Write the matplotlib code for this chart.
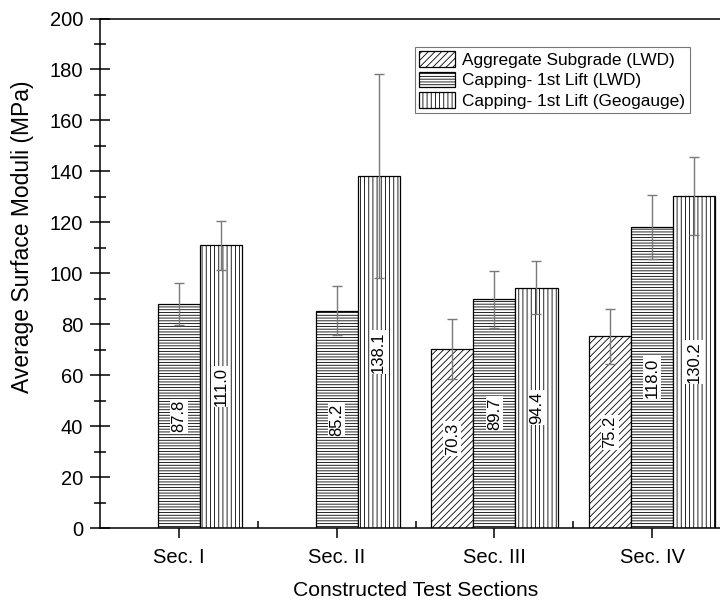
import numpy as np
import matplotlib
matplotlib.use("Agg")
import matplotlib.pyplot as plt
from matplotlib.ticker import MultipleLocator, FixedLocator

plt.rcParams["font.family"] = ["Liberation Sans", "DejaVu Sans"]
plt.rcParams["hatch.linewidth"] = 0.6
plt.rcParams["hatch.color"] = "#333333"

# data
sections = ["Sec. I", "Sec. II", "Sec. III", "Sec. IV"]
series_names = [
    "Aggregate Subgrade (LWD)",
    "Capping- 1st Lift (LWD)",
    "Capping- 1st Lift (Geogauge)",
]
agg_subgrade = [np.nan, np.nan, 70.3, 75.2]
capping_lwd = [87.8, 85.2, 89.7, 118.0]
capping_geo = [111.0, 138.1, 94.4, 130.2]
agg_subgrade_err = [np.nan, np.nan, 11.7, 10.7]
capping_lwd_err = [8.2, 9.6, 11.3, 12.6]
capping_geo_err = [9.7, 40.0, 10.3, 15.3]

values = [agg_subgrade, capping_lwd, capping_geo]
errors = [agg_subgrade_err, capping_lwd_err, capping_geo_err]
hatches = ["/////", "------", "||||"]

fig = plt.figure(figsize=(7.2, 6.03), dpi=100)
# right spine sits just past the image edge, as in the reference crop
ax = fig.add_axes([100 / 720, 75 / 603, 631 / 720, 509.5 / 603])

x = np.arange(1, len(sections) + 1)
bar_w = 0.267

for i, (vals, errs, hatch, name) in enumerate(zip(values, errors, hatches, series_names)):
    vals = np.array(vals, dtype=float)
    errs = np.array(errs, dtype=float)
    ok = ~np.isnan(vals)
    xpos = x[ok] + (i - 1) * bar_w
    ax.bar(xpos, vals[ok], width=bar_w, facecolor="white", edgecolor="black",
           linewidth=0.9, hatch=hatch, label=name, zorder=2)
    ax.errorbar(xpos, vals[ok], yerr=errs[ok], fmt="none", ecolor="#7a7a7a",
                elinewidth=1.0, capsize=3.6, capthick=1.0, zorder=3)
    for xp, v in zip(xpos, vals[ok]):
        ax.text(xp, v / 2, f"{v:.1f}", rotation=90, ha="center", va="center",
                fontsize=12, zorder=4,
                bbox=dict(facecolor="white", edgecolor="none", pad=1.0))

ax.set_xlim(0.5, 4.5)
ax.set_ylim(0, 200)
ax.set_xticks(x)
ax.set_xticklabels(sections, fontsize=14.5)
ax.xaxis.set_minor_locator(FixedLocator([1.5, 2.5, 3.5]))
ax.yaxis.set_major_locator(MultipleLocator(20))
ax.yaxis.set_minor_locator(MultipleLocator(10))
ax.tick_params(axis="y", which="major", direction="inout", length=14, width=1.1,
               labelsize=14.5, pad=5, right=False)
ax.tick_params(axis="y", which="minor", direction="inout", length=8.5, width=1.1,
               right=False)
ax.tick_params(axis="x", which="major", direction="inout", length=15, width=1.1,
               labelsize=14.5, pad=7, top=False)
ax.tick_params(axis="x", which="minor", direction="in", length=5, width=1.1, top=False)

for sp in ax.spines.values():
    sp.set_linewidth(1.1)

ax.set_ylabel("Average Surface Moduli (MPa)", fontsize=16.5)
ax.yaxis.set_label_coords(-0.104, 0.571)
ax.set_xlabel("Constructed Test Sections", fontsize=15.2, labelpad=10)

leg = ax.legend(loc="upper left", bbox_to_anchor=(415 / 720, 1 - 47 / 603),
                bbox_transform=fig.transFigure, borderaxespad=0, fontsize=12.4,
                frameon=True, fancybox=False, edgecolor="#555555",
                handlelength=2.1, handleheight=1.0, handletextpad=0.4,
                labelspacing=0.22, borderpad=0.25)
leg.get_frame().set_linewidth(0.8)

fig.savefig("out.png", dpi=100)
